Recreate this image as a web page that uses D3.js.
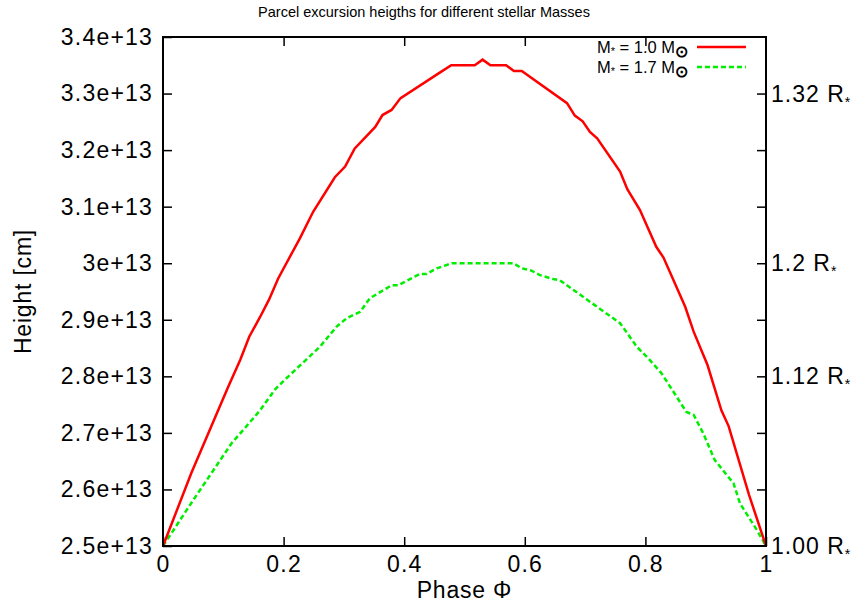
<!DOCTYPE html>
<html>
<head>
<meta charset="utf-8">
<script src="https://cdn.jsdelivr.net/npm/d3@7"></script>
<style>
  html, body { margin: 0; padding: 0; background: #fff; }
  svg { display: block; font-family: "Liberation Sans", Arial, sans-serif; }
</style>
</head>
<body>
<svg id="chart" width="851" height="603"></svg>
<script>
// Phase vs. height (in units of 1e13 cm) for the two stellar masses
const phase1 = [0, 0.047, 0.108, 0.128, 0.143, 0.161, 0.176, 0.191, 0.227, 0.249, 0.285, 0.302, 0.318, 0.352, 0.364, 0.379, 0.394, 0.459, 0.478, 0.517, 0.530, 0.543, 0.569, 0.582, 0.595, 0.670, 0.683, 0.696, 0.708, 0.720, 0.758, 0.770, 0.791, 0.818, 0.830, 0.866, 0.880, 0.903, 0.926, 0.938, 0.972, 1.0];
const height1 = [2.5, 2.629, 2.781, 2.829, 2.870, 2.905, 2.936, 2.973, 3.044, 3.091, 3.152, 3.171, 3.203, 3.241, 3.262, 3.271, 3.292, 3.337, 3.35, 3.35, 3.36, 3.35, 3.35, 3.34, 3.34, 3.283, 3.261, 3.251, 3.232, 3.221, 3.162, 3.131, 3.094, 3.029, 3.010, 2.923, 2.879, 2.820, 2.740, 2.712, 2.590, 2.5];

const phase2 = [0, 0.050, 0.114, 0.133, 0.161, 0.186, 0.202, 0.260, 0.288, 0.305, 0.327, 0.343, 0.379, 0.390, 0.426, 0.437, 0.454, 0.479, 0.581, 0.595, 0.611, 0.625, 0.647, 0.658, 0.700, 0.758, 0.786, 0.802, 0.827, 0.868, 0.880, 0.896, 0.915, 0.946, 0.957, 0.985, 1.0];
const height2 = [2.5, 2.581, 2.682, 2.705, 2.740, 2.777, 2.794, 2.852, 2.888, 2.903, 2.914, 2.938, 2.961, 2.961, 2.981, 2.981, 2.991, 3.0, 3.0, 2.991, 2.987, 2.979, 2.972, 2.970, 2.938, 2.894, 2.852, 2.835, 2.805, 2.737, 2.732, 2.699, 2.652, 2.611, 2.575, 2.528, 2.5];

const xTicks = [0, 0.2, 0.4, 0.6, 0.8, 1];
const xTickLabels = ["0", "0.2", "0.4", "0.6", "0.8", "1"];
const yTicks = [2.5, 2.6, 2.7, 2.8, 2.9, 3.0, 3.1, 3.2, 3.3, 3.4];
const yTickLabels = ["2.5e+13", "2.6e+13", "2.7e+13", "2.8e+13", "2.9e+13", "3e+13", "3.1e+13", "3.2e+13", "3.3e+13", "3.4e+13"];
const radiusTicks = [3.3, 3.0, 2.8, 2.5];
const radiusLabels = ["1.32 R", "1.2 R", "1.12 R", "1.00 R"];

const seriesNames = ["1.0", "1.7"];
const seriesColors = ["#ff0000", "#00ee00"];

const svg = d3.select("#chart");
const m = { left: 163, right: 766, top: 37, bottom: 546 };
const labelSize = 23;

const x = d3.scaleLinear().domain([0, 1]).range([m.left, m.right]);
const y = d3.scaleLinear().domain([2.5, 3.4]).range([m.bottom, m.top]);

// Title
svg.append("text")
  .attr("x", 424).attr("y", 17)
  .attr("text-anchor", "middle")
  .attr("font-size", 14.5)
  .text("Parcel excursion heigths for different stellar Masses");

// Axes with inward ticks, mirrored on the opposite sides
const tickLen = 9;
const tickStyle = g => {
  g.select(".domain").remove();
  g.selectAll(".tick line").attr("stroke", "#000").attr("stroke-width", 1.5);
  g.selectAll(".tick text").attr("fill", "#000").attr("font-size", labelSize)
    .attr("letter-spacing", 1.2)
    .attr("font-family", "Liberation Sans, Arial, sans-serif");
};

svg.append("g").attr("transform", `translate(0,${m.bottom})`)
  .call(d3.axisBottom(x).tickValues(xTicks).tickFormat((d, i) => xTickLabels[i])
    .tickSizeInner(-tickLen).tickSizeOuter(0).tickPadding(10))
  .call(tickStyle);

svg.append("g").attr("transform", `translate(0,${m.top})`)
  .call(d3.axisTop(x).tickValues(xTicks.slice(1, -1)).tickFormat("")
    .tickSizeInner(-tickLen).tickSizeOuter(0))
  .call(tickStyle);

svg.append("g").attr("transform", `translate(${m.left},0)`)
  .call(d3.axisLeft(y).tickValues(yTicks).tickFormat((d, i) => yTickLabels[i])
    .tickSizeInner(-tickLen).tickSizeOuter(0).tickPadding(10))
  .call(tickStyle);

svg.append("g").attr("transform", `translate(${m.right},0)`)
  .call(d3.axisRight(y).tickValues(yTicks.slice(1, -1)).tickFormat("")
    .tickSizeInner(-tickLen).tickSizeOuter(0))
  .call(tickStyle);

// Right-hand radius labels (in stellar radii)
const rGroup = svg.append("g").attr("font-size", labelSize).attr("letter-spacing", 1);
radiusTicks.forEach((v, i) => {
  const t = rGroup.append("text")
    .attr("x", m.right + 5).attr("y", y(v)).attr("dy", "0.35em");
  t.append("tspan").text(radiusLabels[i]);
  t.append("tspan").attr("font-size", 14).attr("dy", 5).text("*");
});

// Axis titles
svg.append("text")
  .attr("transform", `translate(31,${(m.top + m.bottom) / 2}) rotate(-90)`)
  .attr("text-anchor", "middle").attr("font-size", labelSize)
  .attr("letter-spacing", 0.8)
  .text("Height [cm]");

svg.append("text")
  .attr("x", (m.left + m.right) / 2).attr("y", 598)
  .attr("text-anchor", "middle").attr("font-size", labelSize)
  .attr("letter-spacing", 0.8)
  .text("Phase \u03A6");

// Data curves
const line = d3.line().x(d => x(d[0])).y(d => y(d[1]));
const data1 = phase1.map((p, i) => [p, height1[i]]);
const data2 = phase2.map((p, i) => [p, height2[i]]);

svg.append("path").datum(data2)
  .attr("d", line).attr("fill", "none")
  .attr("stroke", seriesColors[1]).attr("stroke-width", 2.5)
  .attr("stroke-dasharray", "5,3");

svg.append("path").datum(data1)
  .attr("d", line).attr("fill", "none")
  .attr("stroke", seriesColors[0]).attr("stroke-width", 2.5);

// Frame
svg.append("rect")
  .attr("x", m.left).attr("y", m.top)
  .attr("width", m.right - m.left).attr("height", m.bottom - m.top)
  .attr("fill", "none").attr("stroke", "#000").attr("stroke-width", 2);

// Legend
const legend = svg.append("g").attr("font-size", 16.5);
seriesNames.forEach((name, i) => {
  const ly = 47 + i * 20;
  const t = legend.append("text")
    .attr("x", 688).attr("y", ly).attr("dy", "0.35em")
    .attr("text-anchor", "end");
  t.append("tspan").text("M");
  t.append("tspan").attr("font-size", 11).attr("dy", 2).text("*");
  t.append("tspan").attr("dy", -2).text(` = ${name} M`);
  t.append("tspan").attr("font-size", 16).attr("font-weight", "bold").attr("dy", 4).text("\u2299");
  legend.append("line")
    .attr("x1", 697).attr("x2", 746).attr("y1", ly).attr("y2", ly)
    .attr("stroke", seriesColors[i]).attr("stroke-width", 2.5)
    .attr("stroke-dasharray", i === 1 ? "5,3" : null);
});
</script>
</body>
</html>
